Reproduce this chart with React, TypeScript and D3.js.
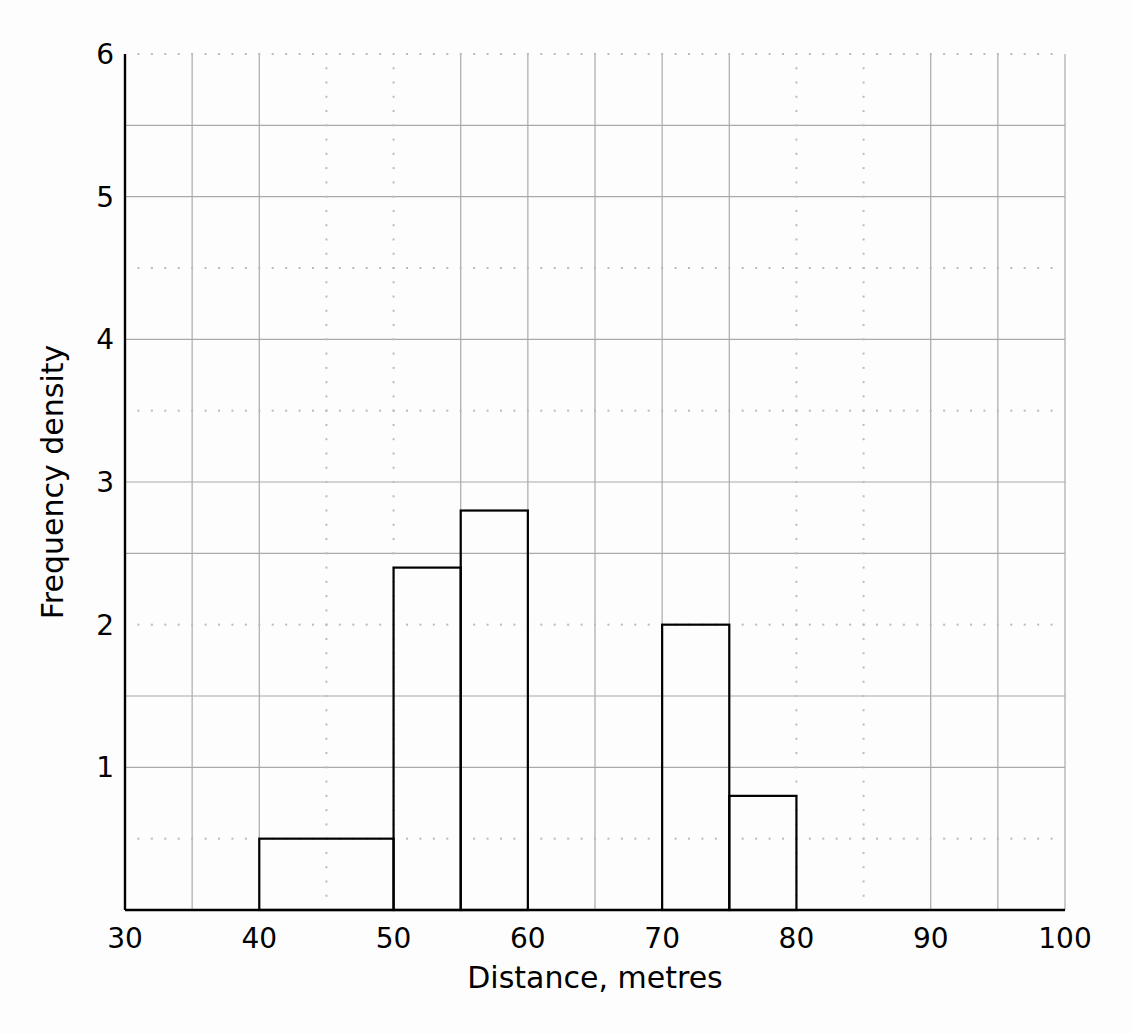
import React from "react";
import * as d3 from "d3";

const binStarts = [40, 50, 55, 70, 75];
const binEnds = [50, 55, 60, 75, 80];
const densities = [0.5, 2.4, 2.8, 2.0, 0.8];

const xTicks = [30, 40, 50, 60, 70, 80, 90, 100];
const yTicks = [1, 2, 3, 4, 5, 6];

const solidXGrid = [35, 40, 55, 60, 65, 70, 75, 90, 95, 100];
const dottedXGrid = [45, 50, 80, 85];
const solidYGrid = [1, 1.5, 2.5, 3, 4, 5, 5.5];
const dottedYGrid = [0.5, 2, 3.5, 4.5, 6];

const W = 1132;
const H = 1034;
const left = 125;
const right = 1065;
const top = 54;
const bottom = 910;

export default function App() {
  const x = d3.scaleLinear().domain([30, 100]).range([left, right]);
  const y = d3.scaleLinear().domain([0, 6]).range([bottom, top]);
  const font = "'DejaVu Sans', sans-serif";

  const hDots: { cx: number; cy: number }[] = [];
  dottedYGrid.forEach((v) => {
    d3.range(31, 100).forEach((u) => hDots.push({ cx: x(u), cy: y(v) }));
  });
  const vDots: { cx: number; cy: number }[] = [];
  dottedXGrid.forEach((v) => {
    d3.range(1, 60).forEach((k) => vDots.push({ cx: x(v), cy: y(k / 10) }));
  });

  return (
    <svg
      width={W}
      height={H}
      style={{ position: "absolute", left: 0, top: 0, display: "block" }}
    >
      <rect x={0} y={0} width={W} height={H} fill="#fdfdfd" />
      {solidXGrid.map((v) => (
        <line key={"sx" + v} x1={x(v)} x2={x(v)} y1={y(0)} y2={y(6)} stroke="#aaaaaa" strokeWidth={1.2} />
      ))}
      {solidYGrid.map((v) => (
        <line key={"sy" + v} x1={x(30)} x2={x(100)} y1={y(v)} y2={y(v)} stroke="#aaaaaa" strokeWidth={1.2} />
      ))}
      {hDots.concat(vDots).map((d, i) => (
        <rect key={"d" + i} x={d.cx - 1} y={d.cy - 1} width={2} height={2} fill="#bbbbbb" />
      ))}
      {densities.map((dv, i) => (
        <rect
          key={"b" + i}
          x={x(binStarts[i])}
          y={y(dv)}
          width={x(binEnds[i]) - x(binStarts[i])}
          height={y(0) - y(dv)}
          fill="none"
          stroke="#000"
          strokeWidth={2.2}
        />
      ))}
      <line x1={x(30)} x2={x(30)} y1={y(0)} y2={y(6)} stroke="#000" strokeWidth={2.4} />
      <line x1={x(30)} x2={x(100)} y1={y(0)} y2={y(0)} stroke="#000" strokeWidth={2.4} />
      {xTicks.map((v) => (
        <text key={"xt" + v} x={x(v)} y={948} textAnchor="middle" fontFamily={font} fontSize={28} fill="#000">
          {v}
        </text>
      ))}
      {yTicks.map((v) => (
        <text key={"yt" + v} x={114} y={y(v) + 10} textAnchor="end" fontFamily={font} fontSize={28} fill="#000">
          {v}
        </text>
      ))}
      <text x={(left + right) / 2} y={988} textAnchor="middle" fontFamily={font} fontSize={30} fill="#000">
        Distance, metres
      </text>
      <text
        transform={`translate(63, ${(top + bottom) / 2}) rotate(-90)`}
        textAnchor="middle"
        fontFamily={font}
        fontSize={30}
        fill="#000"
      >
        Frequency density
      </text>
    </svg>
  );
}
